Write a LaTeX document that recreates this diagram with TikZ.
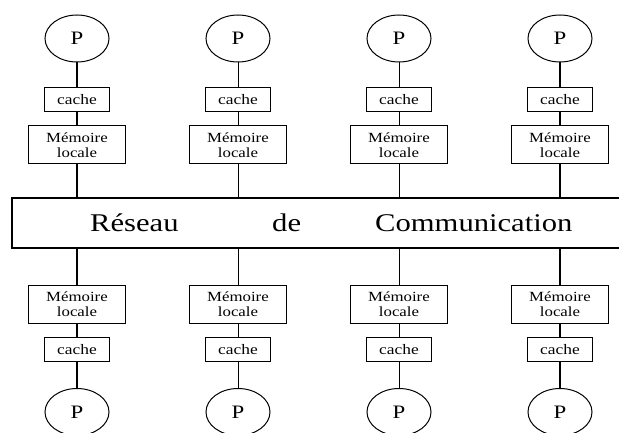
\documentclass[tikz,border=0pt]{standalone}
\usepackage{fontspec}
\setmainfont{Liberation Serif}[FakeStretch=1.2]
\usepackage{tikz}
\usetikzlibrary{positioning}
\usetikzlibrary{shapes}

\begin{document}
\begin{tikzpicture}[x=1pt, y=-1pt,
            proc/.style={draw, ellipse, line width=1pt, minimum width=64pt, minimum height=47pt,
            inner sep=0pt, font=\fontsize{19}{19}\selectfont},
            cache/.style={draw, rectangle, line width=1pt, minimum width=65pt, minimum height=24pt,
            inner sep=0pt, font=\fontsize{14.5}{14.5}\selectfont},
            mem/.style={draw, rectangle, line width=1pt, align=center, minimum width=97pt,
            minimum height=38pt, inner sep=0pt, font=\fontsize{14}{15}\selectfont},
            net/.style={draw, rectangle, line width=1.6pt, minimum width=620pt, minimum height=50pt},
            word/.style={anchor=base west, inner sep=0pt, font=\fontsize{25.5}{25.5}\selectfont},
            thick link/.style={line width=1.6pt},
            thin link/.style={line width=0.8pt}]
            \useasboundingbox (0,0) rectangle (619,433);

            \node[net] (net) at (322,223) {};
            \node[word] (reseau) at (90,232) {Réseau};
            \node[word] (de) at (272,232) {de};
            \node[word] (comm) at (375,232) {Communication};

            % top row
            \node[proc] (p1) at (77,38.5) {P};
            \node[cache] (c1) [below=25pt of p1] {cache};
            \node[mem] (m1) [below=13pt of c1] {Mémoire\\locale};
            \node[proc] (p2) at (238,38.5) {P};
            \node[cache] (c2) [below=25pt of p2] {cache};
            \node[mem] (m2) [below=13pt of c2] {Mémoire\\locale};
            \node[proc] (p3) at (399,38.5) {P};
            \node[cache] (c3) [below=25pt of p3] {cache};
            \node[mem] (m3) [below=13pt of c3] {Mémoire\\locale};
            \node[proc] (p4) at (560,38.5) {P};
            \node[cache] (c4) [below=25pt of p4] {cache};
            \node[mem] (m4) [below=13pt of c4] {Mémoire\\locale};

            % bottom row
            \node[mem] (m5) at (77,304.5) {Mémoire\\locale};
            \node[cache] (c5) [below=13pt of m5] {cache};
            \node[proc] (p5) [below=26pt of c5] {P};
            \node[mem] (m6) at (238,304.5) {Mémoire\\locale};
            \node[cache] (c6) [below=13pt of m6] {cache};
            \node[proc] (p6) [below=26pt of c6] {P};
            \node[mem] (m7) at (399,304.5) {Mémoire\\locale};
            \node[cache] (c7) [below=13pt of m7] {cache};
            \node[proc] (p7) [below=26pt of c7] {P};
            \node[mem] (m8) at (560,304.5) {Mémoire\\locale};
            \node[cache] (c8) [below=13pt of m8] {cache};
            \node[proc] (p8) [below=26pt of c8] {P};

            \draw[thick link] (p1) -- (c1);
            \draw[thick link] (c1) -- (m1);
            \draw[thick link] (m1.south) -- (m1.south |- net.north);
            \draw[thin link] (p2) -- (c2);
            \draw[thin link] (c2) -- (m2);
            \draw[thin link] (m2.south) -- (m2.south |- net.north);
            \draw[thin link] (p3) -- (c3);
            \draw[thin link] (c3) -- (m3);
            \draw[thin link] (m3.south) -- (m3.south |- net.north);
            \draw[thick link] (p4) -- (c4);
            \draw[thick link] (c4) -- (m4);
            \draw[thick link] (m4.south) -- (m4.south |- net.north);

            \draw[thick link] (m5.north |- net.south) -- (m5.north);
            \draw[thick link] (m5) -- (c5);
            \draw[thick link] (c5) -- (p5);
            \draw[thin link] (m6.north |- net.south) -- (m6.north);
            \draw[thin link] (m6) -- (c6);
            \draw[thin link] (c6) -- (p6);
            \draw[thin link] (m7.north |- net.south) -- (m7.north);
            \draw[thin link] (m7) -- (c7);
            \draw[thin link] (c7) -- (p7);
            \draw[thick link] (m8.north |- net.south) -- (m8.north);
            \draw[thick link] (m8) -- (c8);
            \draw[thick link] (c8) -- (p8);
        \end{tikzpicture}
\end{document}
